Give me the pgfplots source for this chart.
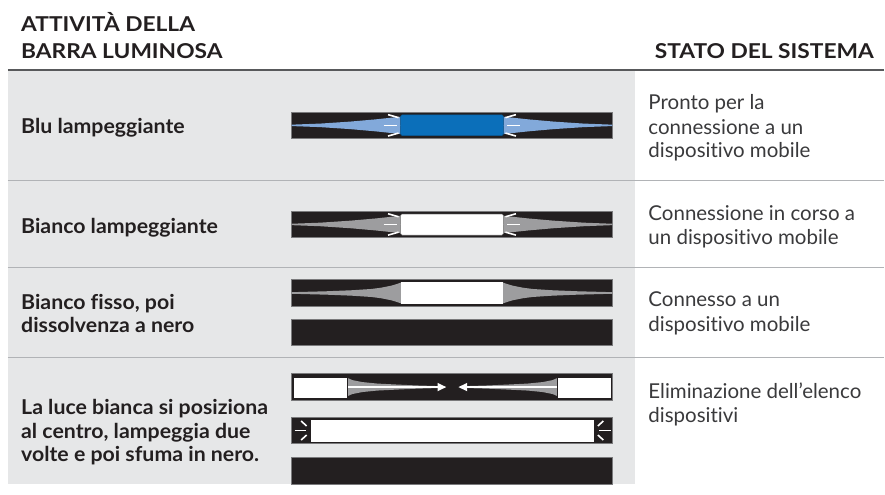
\documentclass[border=0pt]{standalone}
\usepackage{pgfplots}
\pgfplotsset{compat=1.18}
\usepackage{fontspec}
\setmainfont{Lato}[Ligatures=NoCommon]
\newfontfamily\hdfont[FakeStretch=1.11,Ligatures=NoCommon]{Lato}
\newfontfamily\bdfont[FakeStretch=1.04,Ligatures=NoCommon]{Lato}
\definecolor{barblk}{HTML}{231F20}
\definecolor{barout}{HTML}{7A7A7C}
\definecolor{panel}{HTML}{E6E7E8}
\definecolor{sepline}{HTML}{B1B3B6}
\definecolor{hdline}{HTML}{58595B}
\definecolor{bluerect}{HTML}{0B6FBA}
\definecolor{blueglow}{HTML}{82A9DA}
\definecolor{grayglow}{HTML}{9D9D9F}
\definecolor{txtbold}{HTML}{231F20}
\definecolor{txtreg}{HTML}{3A3A3C}
\tikzset{
  bt/.style={anchor=base west, inner sep=0pt, text=txtbold, font=\fontsize{20.5}{24}\selectfont\bdfont\bfseries},
  ht/.style={anchor=base west, inner sep=0pt, text=txtbold, font=\fontsize{20.5}{24}\selectfont\hdfont\bfseries},
  rt/.style={anchor=base west, inner sep=0pt, text=txtreg, font=\fontsize{20.5}{24}\selectfont},
}
\pgfplotsset{
  bar/.style={fill=barblk, draw=barout, line width=0.8pt},
  spk/.style={draw=white, line width=1.6pt},
}
\begin{document}
\begin{tikzpicture}
\begin{axis}[
  width=885pt, height=495pt, scale only axis,
  xmin=0, xmax=885, ymin=0, ymax=495, y dir=reverse,
  hide axis, clip=false,
]
% background and panel
\addplot[fill=white, draw=none] coordinates {(0,0)(885,0)(885,495)(0,495)} -- cycle;
\addplot[fill=panel, draw=none] coordinates {(8,71)(636,71)(636,485)(8,485)} -- cycle;
\addplot[draw=hdline, line width=2pt] coordinates {(8,70)(885,70)};
\addplot[draw=sepline, line width=1pt] coordinates {(8,181)(885,181)};
\addplot[draw=sepline, line width=1pt] coordinates {(8,268)(885,268)};
\addplot[draw=sepline, line width=1pt] coordinates {(8,358)(885,358)};

% ---- Row 1: blue blinking
\addplot[bar] coordinates {(292,112.3)(613,112.3)(613,138.7)(292,138.7)} -- cycle;
\addplot[draw=blueglow, line width=1pt] coordinates {(292.5,125.5)(612.5,125.5)};
\addplot[fill=blueglow, draw=none] coordinates {(401,116.9)(391,117.9)(376,119.5)(351,121.7)(321,123.7)(292,124.8)(292,126.2)(321,127.3)(351,129.3)(376,131.5)(391,133.1)(401,134.1)} -- cycle;
\addplot[fill=blueglow, draw=none] coordinates {(504,116.9)(514,117.9)(529,119.5)(554,121.7)(584,123.7)(613,124.8)(613,126.2)(584,127.3)(554,129.3)(529,131.5)(514,133.1)(504,134.1)} -- cycle;
\addplot[fill=bluerect, draw=bluerect!80!black, line width=0.5pt, rounded corners=1.5pt] coordinates {(401,115)(504,115)(504,135.7)(401,135.7)} -- cycle;
\addplot[spk] coordinates {(384,125.5)(397.5,125.5)};
\addplot[spk] coordinates {(388.5,114.8)(399,117.8)};
\addplot[spk] coordinates {(388.5,136.2)(399,133.2)};
\addplot[spk] coordinates {(507.5,125.5)(521,125.5)};
\addplot[spk] coordinates {(506,117.8)(516.5,114.8)};
\addplot[spk] coordinates {(506,133.2)(516.5,136.2)};

% ---- Row 2: white blinking
\addplot[bar] coordinates {(292,211.7)(613,211.7)(613,237.7)(292,237.7)} -- cycle;
\addplot[draw=grayglow, line width=1pt] coordinates {(292.5,224.7)(612.5,224.7)};
\addplot[fill=grayglow, draw=none] coordinates {(401,216.1)(391,217.1)(376,218.7)(351,220.9)(321,222.9)(292,224.0)(292,225.4)(321,226.5)(351,228.5)(376,230.7)(391,232.3)(401,233.3)} -- cycle;
\addplot[fill=grayglow, draw=none] coordinates {(504,216.1)(514,217.1)(529,218.7)(554,220.9)(584,222.9)(613,224.0)(613,225.4)(584,226.5)(554,228.5)(529,230.7)(514,232.3)(504,233.3)} -- cycle;
\addplot[fill=white, draw=gray, line width=0.5pt, rounded corners=1.5pt] coordinates {(401,214.3)(504,214.3)(504,235.3)(401,235.3)} -- cycle;
\addplot[spk] coordinates {(384,224.7)(397.5,224.7)};
\addplot[spk] coordinates {(388.5,214.0)(399,217.0)};
\addplot[spk] coordinates {(388.5,235.4)(399,232.4)};
\addplot[spk] coordinates {(507.5,224.7)(521,224.7)};
\addplot[spk] coordinates {(506,217.0)(516.5,214.0)};
\addplot[spk] coordinates {(506,232.4)(516.5,235.4)};

% ---- Row 3: solid white then fade
\addplot[bar] coordinates {(292,280)(613,280)(613,306.7)(292,306.7)} -- cycle;
\addplot[draw=grayglow, line width=1pt] coordinates {(292.5,293.3)(612.5,293.3)};
\addplot[fill=grayglow, draw=none] coordinates {(401.7,282.8)(396.7,284.5)(391.7,286.0)(381.7,288.0)(371.7,289.3)(351.7,290.6)(326.7,291.6)(292,292.5)(292,294.1)(326.7,295.0)(351.7,296.0)(371.7,297.3)(381.7,298.6)(391.7,300.6)(396.7,302.1)(401.7,303.8)} -- cycle;
\addplot[fill=grayglow, draw=none] coordinates {(503.3,282.8)(508.3,284.5)(513.3,286.0)(523.3,288.0)(533.3,289.3)(553.3,290.6)(578.3,291.6)(613,292.5)(613,294.1)(578.3,295.0)(553.3,296.0)(533.3,297.3)(523.3,298.6)(513.3,300.6)(508.3,302.1)(503.3,303.8)} -- cycle;
\addplot[fill=white, draw=none] coordinates {(401.7,282.7)(503.3,282.7)(503.3,304)(401.7,304)} -- cycle;
\addplot[bar] coordinates {(292,319.3)(613,319.3)(613,345.7)(292,345.7)} -- cycle;

% ---- Row 4: to centre, blink twice, fade
\addplot[bar] coordinates {(292,374.3)(613,374.3)(613,400.7)(292,400.7)} -- cycle;
\addplot[fill=grayglow, draw=none] coordinates {(347.7,378.3)(352.7,380.5)(362.7,382.5)(377.7,384)(397.7,385)(417.7,385.9)(437.7,386.5)(437.7,388.5)(417.7,389.1)(397.7,390)(377.7,391)(362.7,392.5)(352.7,394.5)(347.7,396.7)} -- cycle;
\addplot[fill=grayglow, draw=none] coordinates {(558.3,378.3)(553.3,380.5)(543.3,382.5)(528.3,384)(508.3,385)(488.3,385.9)(468.3,386.5)(468.3,388.5)(488.3,389.1)(508.3,390)(528.3,391)(543.3,392.5)(553.3,394.5)(558.3,396.7)} -- cycle;
\addplot[draw=white, line width=1.5pt] coordinates {(347.7,387.5)(440,387.5)};
\addplot[fill=white, draw=none] coordinates {(438,383.3)(446.7,387.5)(438,391.7)} -- cycle;
\addplot[draw=white, line width=1.5pt] coordinates {(558.3,387.5)(466,387.5)};
\addplot[fill=white, draw=none] coordinates {(467.7,383.3)(459,387.5)(467.7,391.7)} -- cycle;
\addplot[fill=white, draw=barblk, line width=0.6pt] coordinates {(294,377.3)(347.7,377.3)(347.7,398.3)(294,398.3)} -- cycle;
\addplot[fill=white, draw=barblk, line width=0.6pt] coordinates {(558.3,377.3)(611.7,377.3)(611.7,398.3)(558.3,398.3)} -- cycle;

\addplot[bar] coordinates {(292,417.7)(613,417.7)(613,444.3)(292,444.3)} -- cycle;
\addplot[fill=white, draw=none] coordinates {(311.7,420)(595,420)(595,442)(311.7,442)} -- cycle;
\addplot[spk] coordinates {(295,431)(306.5,431)};
\addplot[spk] coordinates {(301.5,421.5)(307,426.5)};
\addplot[spk] coordinates {(301.5,440.5)(307,435.5)};
\addplot[spk] coordinates {(600,431)(611.5,431)};
\addplot[spk] coordinates {(598.5,426.5)(604,421.5)};
\addplot[spk] coordinates {(598.5,435.5)(604,440.5)};

\addplot[bar] coordinates {(292,458.3)(613,458.3)(613,484.7)(292,484.7)} -- cycle;

% ---- Text
\node[ht] at (axis cs:21,31.7) {ATTIVITÀ DELLA};
\node[ht] at (axis cs:21,58.3) {BARRA LUMINOSA};
\node[ht, anchor=base east] at (axis cs:875,58.3) {STATO DEL SISTEMA};

\node[bt] at (axis cs:21,134) {Blu lampeggiante};
\node[bt] at (axis cs:21,233.3) {Bianco lampeggiante};
\node[bt] at (axis cs:21,310.3) {Bianco fisso, poi};
\node[bt] at (axis cs:21,333.3) {dissolvenza a nero};
\node[bt] at (axis cs:21,414.5) {La luce bianca si posiziona};
\node[bt] at (axis cs:21,438.5) {al centro, lampeggia due};
\node[bt] at (axis cs:21,462.5) {volte e poi sfuma in nero.};

\node[rt] at (axis cs:649,110) {Pronto per la};
\node[rt] at (axis cs:649,134.3) {connessione a un};
\node[rt] at (axis cs:649,157.7) {dispositivo mobile};
\node[rt] at (axis cs:649,220.7) {Connessione in corso a};
\node[rt] at (axis cs:649,245) {un dispositivo mobile};
\node[rt] at (axis cs:649,307.3) {Connesso a un};
\node[rt] at (axis cs:649,332.3) {dispositivo mobile};
\node[rt] at (axis cs:649,399.3) {Eliminazione dell’elenco};
\node[rt] at (axis cs:649,422.7) {dispositivi};
\end{axis}
\end{tikzpicture}
\end{document}
